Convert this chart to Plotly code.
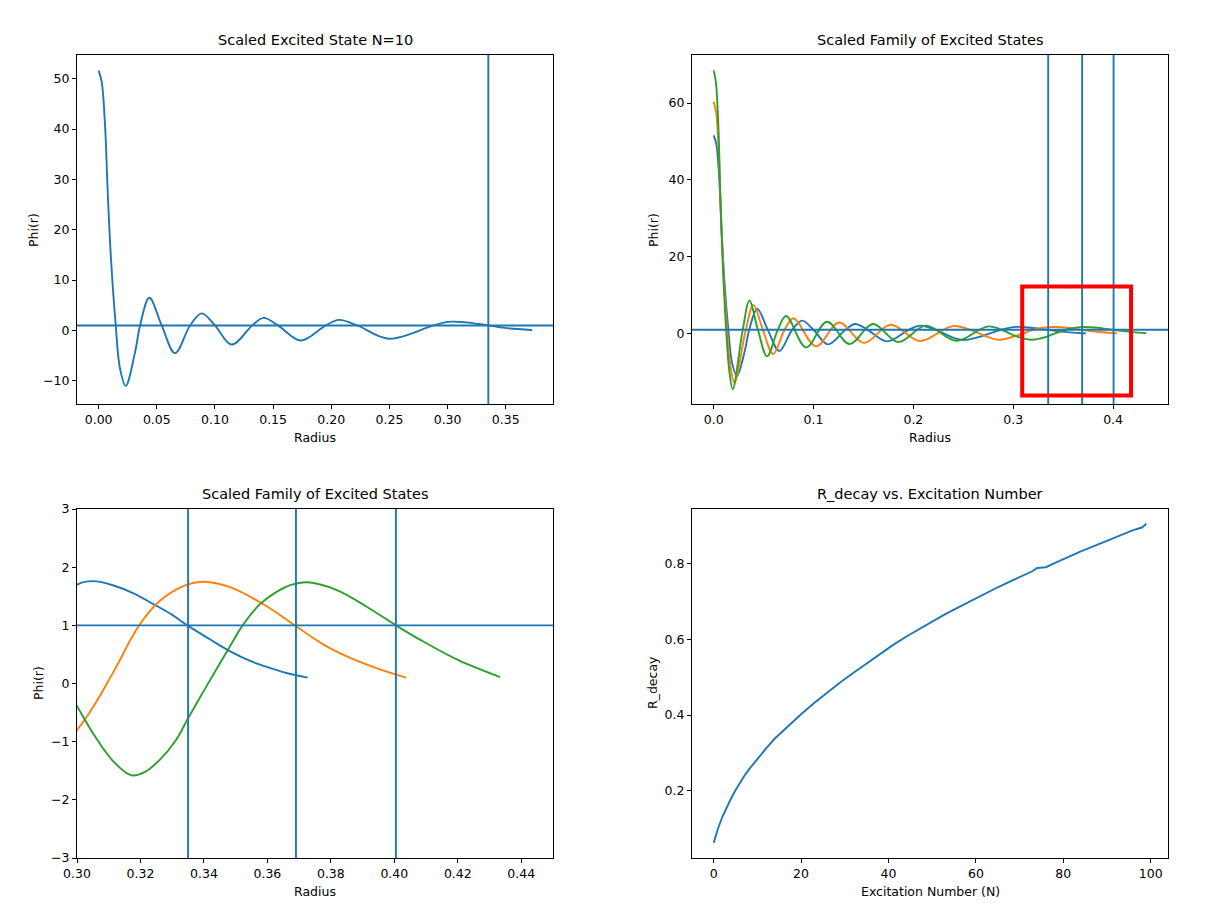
import plotly.graph_objects as go

# ---- data ----
# N=10 state (blue), shared by three panels
r_n10 = [0.0, 0.0026, 0.0055, 0.0078, 0.0106, 0.0147, 0.0184, 0.0233, 0.0313, 0.0356,
         0.0436, 0.0542, 0.0657, 0.0786, 0.0886, 0.1000, 0.1144, 0.1320, 0.1417, 0.1542,
         0.1737, 0.1953, 0.2067, 0.2223, 0.2495, 0.2878, 0.3000, 0.3052, 0.3118, 0.3178,
         0.3239, 0.3300, 0.3348, 0.3419, 0.3480, 0.3540, 0.3600, 0.3660, 0.3727]
phi_n10 = [51.6, 49.4, 40.8, 27.5, 14.3, 1.0, -7.6, -11.0, -4.3, 1.0,
           6.5, 1.0, -4.5, 1.0, 3.4, 1.0, -2.8, 1.0, 2.5, 1.0,
           -2.0, 1.0, 2.1, 1.0, -1.65, 1.0, 1.70, 1.76, 1.68, 1.55,
           1.37, 1.18, 1.0, 0.76, 0.56, 0.40, 0.28, 0.18, 0.10]

# next state (orange)
r_n12 = [0.0, 0.0024, 0.0050, 0.0072, 0.0097, 0.0135, 0.0170, 0.0208, 0.0322, 0.0398,
         0.0493, 0.0595, 0.0710, 0.0800, 0.1025, 0.1255, 0.1505, 0.1770, 0.2070, 0.2405,
         0.2850, 0.3000, 0.3058, 0.3118, 0.3196, 0.3263, 0.3347, 0.3401, 0.3480, 0.3600,
         0.3686, 0.3780, 0.3865, 0.3961, 0.4037]
phi_n12 = [60.3, 57.7, 47.7, 32.1, 16.7, 1.0, -8.8, -12.8, 1.0, 7.5,
           1.0, -5.3, 1.0, 4.0, -3.3, 2.9, -2.4, 2.3, -1.9, 2.0,
           -1.6, -0.80, -0.34, 0.23, 1.0, 1.43, 1.70, 1.75, 1.66, 1.32,
           1.0, 0.66, 0.43, 0.23, 0.10]

# next state (green)
r_n14 = [0.0, 0.0022, 0.0047, 0.0066, 0.0090, 0.0125, 0.0158, 0.0191, 0.0291, 0.0358,
         0.0443, 0.0535, 0.0642, 0.0726, 0.0925, 0.1135, 0.1360, 0.1595, 0.1850, 0.2125,
         0.2430, 0.2755, 0.3000, 0.3058, 0.3118, 0.3172, 0.3214, 0.3263, 0.3311, 0.3348,
         0.3395, 0.3443, 0.3480, 0.3522, 0.3576, 0.3630, 0.3672, 0.3727, 0.3817, 0.3913,
         0.4005, 0.4082, 0.4202, 0.4333]
phi_n14 = [68.5, 65.5, 54.1, 36.4, 18.9, 1.0, -10.0, -14.5, 1.0, 8.6,
           1.0, -5.9, 1.0, 4.6, -3.6, 3.1, -2.7, 2.5, -2.2, 2.1,
           -1.85, 1.9, -0.39, -0.92, -1.36, -1.58, -1.52, -1.30, -0.98, -0.62,
           -0.17, 0.28, 0.62, 1.0, 1.36, 1.58, 1.69, 1.74, 1.61, 1.32,
           1.0, 0.75, 0.40, 0.11]

# R_decay of each state, and the threshold level
decay_radii = [0.335, 0.369, 0.4005]
phi_level = 1.0

# R_decay vs excitation number
excitation_n = [0, 1, 2, 3, 4, 5, 6, 7, 8, 10, 12, 14, 16, 18, 20, 23, 26, 29, 32, 35,
                38, 41, 44, 47, 50, 53, 56, 59, 62, 65, 68, 71, 73, 74, 76, 78, 81, 84,
                87, 90, 93, 96, 98, 99]
r_decay = [0.062, 0.100, 0.131, 0.157, 0.180, 0.201, 0.221, 0.239, 0.255, 0.285,
           0.312, 0.338, 0.360, 0.382, 0.402, 0.432, 0.460, 0.487, 0.512, 0.537,
           0.561, 0.585, 0.607, 0.627, 0.648, 0.667, 0.685, 0.703, 0.720, 0.738,
           0.754, 0.770, 0.781, 0.789, 0.791, 0.802, 0.818, 0.833, 0.847, 0.861,
           0.874, 0.889, 0.896, 0.906]

# the page body has an 8px margin, so the figure is drawn 8px in and 8px smaller
PAGE = 8
W, H = 1229 - PAGE, 908 - PAGE
C0, C1, C2 = "#1f77b4", "#ff7f0e", "#2ca02c"
FONT = "DejaVu Sans"
LW = 1.9


def px(x):
    return (x - PAGE) / W


def py(y):
    return 1 - (y - PAGE) / H


def axis(dom, anchor, rng, dtick, fmt=None, tick0=None):
    d = dict(domain=dom, anchor=anchor, range=rng, dtick=dtick,
             showline=True, linecolor="black", linewidth=1, mirror=True,
             ticks="outside", ticklen=4, tickwidth=1, tickcolor="black",
             showgrid=False, zeroline=False,
             tickfont=dict(family=FONT, size=12.5, color="black"))
    if fmt:
        d["tickformat"] = fmt
    if tick0 is not None:
        d["tick0"] = tick0
    return d


fig = go.Figure()

curves = [(r_n10, phi_n10, C0), (r_n12, phi_n12, C1), (r_n14, phi_n14, C2)]

# top left: single state
fig.add_trace(go.Scatter(x=r_n10, y=phi_n10, mode="lines", line=dict(color=C0, width=LW, shape="spline"),
                         xaxis="x", yaxis="y", showlegend=False))
# top right and bottom left: the family
for xa, ya in [("x2", "y2"), ("x3", "y3")]:
    for r, phi, c in curves:
        fig.add_trace(go.Scatter(x=r, y=phi, mode="lines", line=dict(color=c, width=LW, shape="spline"),
                                 xaxis=xa, yaxis=ya, showlegend=False))
# bottom right
fig.add_trace(go.Scatter(x=excitation_n, y=r_decay, mode="lines", line=dict(color=C0, width=LW),
                         xaxis="x4", yaxis="y4", showlegend=False))

shapes = []
# horizontal threshold lines
for xa, ya in [("x", "y"), ("x2", "y2"), ("x3", "y3")]:
    shapes.append(dict(type="line", xref=xa + " domain", yref=ya, x0=0, x1=1, y0=phi_level, y1=phi_level,
                       line=dict(color=C0, width=LW)))
# vertical decay lines
shapes.append(dict(type="line", xref="x", yref="y domain", x0=decay_radii[0], x1=decay_radii[0], y0=0, y1=1,
                   line=dict(color=C0, width=LW)))
for xa, ya in [("x2", "y2"), ("x3", "y3")]:
    for rd in decay_radii:
        shapes.append(dict(type="line", xref=xa, yref=ya + " domain", x0=rd, x1=rd, y0=0, y1=1,
                           line=dict(color=C0, width=LW)))
# red zoom box
shapes.append(dict(type="rect", xref="x2", yref="y2", x0=0.309, x1=0.418, y0=-16.1, y1=12.3,
                   line=dict(color="red", width=4), fillcolor="rgba(0,0,0,0)"))

left = [px(77), px(553)]
right = [px(692), px(1168)]
top = [py(404), py(55)]
bottom = [py(858), py(509)]


def text(s, x, y, size=12.5, angle=0):
    return dict(text=s, x=px(x), y=py(y), xref="paper", yref="paper", showarrow=False,
                xanchor="center", yanchor="middle", textangle=angle,
                font=dict(family=FONT, size=size, color="black"))


annotations = [
    text("Scaled Excited State N=10", 315, 40, 14.5),
    text("Scaled Family of Excited States", 930, 40, 14.5),
    text("Scaled Family of Excited States", 315, 494, 14.5),
    text("R_decay vs. Excitation Number", 930, 494, 14.5),
    text("Radius", 315, 437),
    text("Radius", 930, 437),
    text("Radius", 315, 891),
    text("Excitation Number (N)", 930, 891),
    text("Phi(r)", 33, 230, angle=-90),
    text("Phi(r)", 653, 230, angle=-90),
    text("Phi(r)", 38, 683, angle=-90),
    text("R_decay", 652, 683, angle=-90),
]

fig.update_layout(
    width=W, height=H, margin=dict(l=0, r=0, t=0, b=0, autoexpand=False),
    paper_bgcolor="white", plot_bgcolor="white",
    xaxis=axis(left, "y", [-0.0186, 0.3906], 0.05, ".2f", 0),
    yaxis=axis(top, "x", [-14.6, 54.7], 10, None, 0),
    xaxis2=axis(right, "y2", [-0.0217, 0.455], 0.1, ".1f", 0),
    yaxis2=axis(top, "x2", [-18.3, 72.5], 20, None, 0),
    xaxis3=axis(left, "y3", [0.30, 0.45], 0.02, ".2f", 0.30),
    yaxis3=axis(bottom, "x3", [-3, 3], 1, None, 0),
    xaxis4=axis(right, "y4", [-4.95, 103.95], 20, None, 0),
    yaxis4=axis(bottom, "x4", [0.022, 0.945], 0.2, ".1f", 0),
    shapes=shapes,
    annotations=annotations,
)

fig.write_html("out.html")
